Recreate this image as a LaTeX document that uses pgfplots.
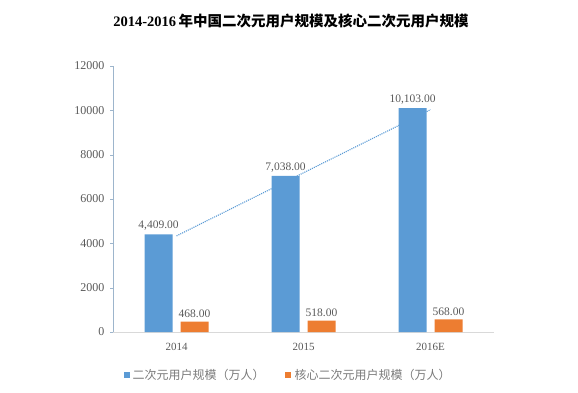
\documentclass[border=0pt]{standalone}
\usepackage{pgfplots}
\pgfplotsset{compat=1.18}
\usepackage{fontspec}
\setmainfont{Liberation Serif}
\newfontfamily\cjk{Noto Sans CJK SC}
\newfontfamily\cjkb{Noto Sans CJK SC}[UprightFont=* Bold]
\definecolor{cblue}{HTML}{5B9BD5}
\definecolor{corange}{HTML}{ED7D31}
\definecolor{tgray}{HTML}{595959}
\definecolor{axgray}{HTML}{D9D9D9}
\definecolor{yaxc}{HTML}{9DB5CC}
\begin{document}
\begin{tikzpicture}[x=1pt,y=1pt]
\useasboundingbox (0,0) rectangle (578,392);
\node[font=\bfseries\fontsize{14.5}{16}\selectfont] at (291,371) {2014-2016\,{\cjkb 年中国二次元用户规模及核心二次元用户规模}};
\begin{axis}[
  at={(113pt,60pt)}, anchor=south west,
  scale only axis, width=381pt, height=266pt,
  xmin=-0.5, xmax=2.5, ymin=0, ymax=12000,
  xtick={0,1,2}, xticklabels={2014,2015,2016E},
  ytick={0,2000,4000,6000,8000,10000,12000},
  scaled y ticks=false,
  axis x line*=bottom, axis y line*=left,
  x axis line style={draw=axgray, -},
  y axis line style={draw=yaxc, -},
  xtick style={draw=none},
  ytick style={draw=yaxc},
  tick align=outside, major tick length=3pt,
  /pgf/number format/1000 sep={},
  /pgf/number format/assume math mode=true,
  yticklabel style={font=\fontsize{12}{14}\selectfont, text=tgray, xshift=-2pt},
  xticklabel style={font=\fontsize{11}{13}\selectfont, text=tgray, yshift=-5pt},
  clip=false,
]
\addplot[cblue, densely dotted, line width=1.1pt, forget plot] coordinates {(0,4336) (1,7183) (2,10030)};
\addplot[ybar, bar width=28pt, bar shift=-18pt, fill=cblue, draw=none,
  nodes near coords, nodes near coords style={font=\fontsize{11.5}{13}\selectfont, text=tgray, xshift=-18pt,
  /pgf/number format/.cd, fixed, fixed zerofill, precision=2, 1000 sep={,}, assume math mode=true}]
  coordinates {(0,4409) (1,7038) (2,10103)};
\addplot[ybar, bar width=28pt, bar shift=18pt, fill=corange, draw=none,
  nodes near coords, nodes near coords style={font=\fontsize{11.5}{13}\selectfont, text=tgray, xshift=18pt,
  /pgf/number format/.cd, fixed, fixed zerofill, precision=2, 1000 sep={,}, assume math mode=true}]
  coordinates {(0,468) (1,518) (2,568)};
\end{axis}
\fill[cblue] (124,14) rectangle (130,20);
\node[anchor=west, font=\cjk\fontsize{12}{14}\selectfont, text=tgray!80] at (129,17) {二次元用户规模（万人）};
\fill[corange] (285,14) rectangle (291,20);
\node[anchor=west, font=\cjk\fontsize{12}{14}\selectfont, text=tgray!80] at (291,17) {核心二次元用户规模（万人）};
\end{tikzpicture}
\end{document}
